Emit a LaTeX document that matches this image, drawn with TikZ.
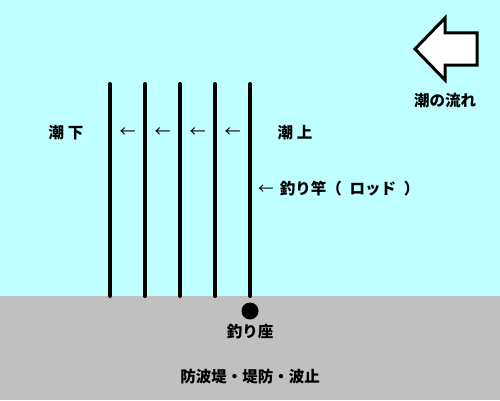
\documentclass[tikz,border=0pt]{standalone}
\usepackage{fontspec}
\newfontfamily\jp{Noto Sans CJK JP}
\definecolor{sea}{RGB}{192,255,255}
\definecolor{land}{RGB}{192,192,192}
\begin{document}
\begin{tikzpicture}[x=1pt,y=1pt,
  lbl/.style={font=\jp\bfseries\fontsize{15.5}{17}\selectfont, inner sep=0pt},
  thinarrow/.style={font=\jp\fontsize{16}{18}\selectfont, inner sep=0pt},
  rod/.style={line width=4pt, line cap=round},
  flow/.style={line width=3pt, line join=miter, fill=white}]
\useasboundingbox (0,0) rectangle (500,400);
\fill[sea] (0,104) rectangle (500,400);
\fill[land] (0,0) rectangle (500,104);
% rods
\foreach \n/\x in {a/110,b/145,c/180,d/215,e/250}{
  \coordinate (\n top) at (\x,316);
  \coordinate (\n bot) at (\x,104);
  \draw[rod] (\n top) -- (\n bot);
}
% flow arrow
\draw[flow] (415,351) -- (445,382) -- (445,367) -- (477,367) -- (477,335) -- (445,335) -- (445,320) -- cycle;
\node[lbl] (flowlbl) at (445,299) {潮の流れ};
\node[lbl] (down) at (66,267) {潮 下};
\node[lbl] (up) at (295,267) {潮 上};
\foreach \n/\x in {1/127.5,2/162.5,3/197.5,4/232.5}{
  \node[thinarrow] (ar\n) at (\x,267) {←};
}
\node[lbl, anchor=west] (rodlbl) at (258,211) {{\mdseries ←}\hspace{0.4em}釣り竿（\hspace{0.5em}ロッド\hspace{0.5em}）};
\node[circle, fill=black, minimum size=17pt, inner sep=0pt] (seat) at (250,89) {};
\node[lbl] (seatlbl) at (250,68) {釣り座};
\node[lbl] (pier) at (250,23) {防波堤・堤防・波止};
\end{tikzpicture}
\end{document}
